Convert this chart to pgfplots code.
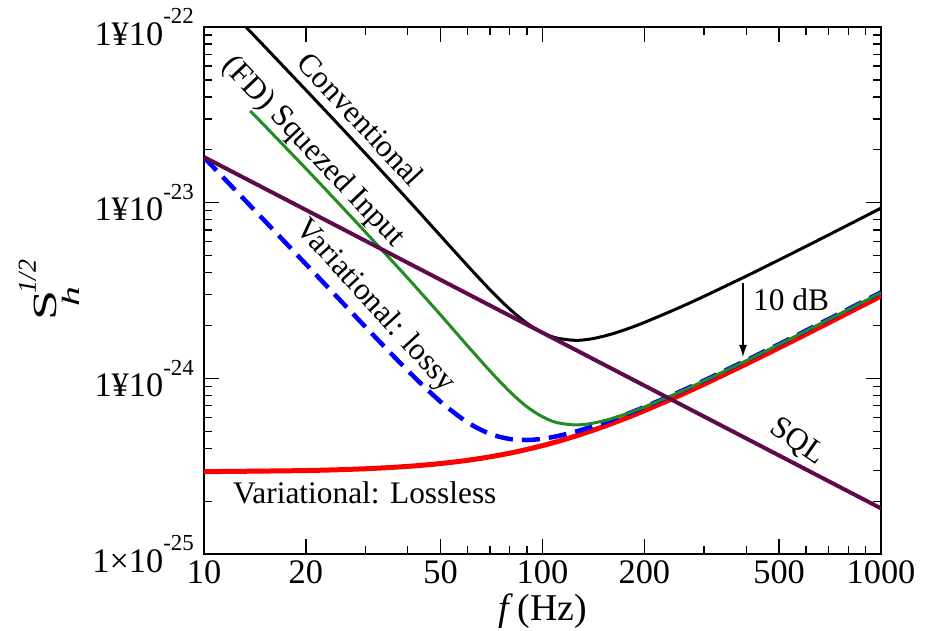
\documentclass[border=0pt]{standalone}
\usepackage{fontspec}
\setmainfont{Liberation Serif}
\usepackage{pgfplots}
\pgfplotsset{compat=1.18}
\usetikzlibrary{arrows.meta}
\definecolor{sqlpurple}{RGB}{95,10,75}
\definecolor{fdgreen}{RGB}{34,139,34}
\newcommand\sups[1]{\raisebox{0.62em}{\fontsize{23}{23}\selectfont #1}}
\newcommand\tickfont{\fontsize{34.5}{35}\selectfont}
\newcommand\annfont{\fontsize{31.5}{32}\selectfont}
\begin{document}
\begin{tikzpicture}
\path[use as bounding box] (-204bp,-77bp) rectangle (728bp,554bp);
\begin{axis}[
  at={(0,0)}, anchor=south west,
  width=677bp, height=527bp, scale only axis,
  xmode=log, ymode=log,
  xmin=10, xmax=1000, ymin=1e-25, ymax=1e-22,
  xtick={10,20,50,100,200,500,1000},
  xticklabels={10,20,50,100,200,500,1000},
  minor xtick={30,40,60,70,80,90,300,400,600,700,800,900},
  ytick={1e-25,1e-24,1e-23,1e-22},
  yticklabels={{1×10\sups{-25}},{1¥10\sups{-24}},{1¥10\sups{-23}},{1¥10\sups{-22}}},
  minor ytick={2e-25,3e-25,4e-25,5e-25,6e-25,7e-25,8e-25,9e-25,2e-24,3e-24,4e-24,5e-24,6e-24,7e-24,8e-24,9e-24,2e-23,3e-23,4e-23,5e-23,6e-23,7e-23,8e-23,9e-23},
  tick align=inside,
  major tick length=15bp, minor tick length=8bp,
  tick style={black, line width=1.3bp},
  axis line style={line width=1.5bp},
  xticklabel style={font=\tickfont, anchor=north, inner sep=0pt, yshift=-6bp},
  yticklabel style={font=\tickfont, anchor=east, inner sep=0pt, xshift=-10bp},
]
% Variational: Lossless
\addplot[red, line width=5bp, smooth] coordinates {
(10,2.945e-25) (20,2.988e-25) (30,3.059e-25) (40,3.156e-25) (50,3.276e-25)
(60,3.417e-25) (70,3.577e-25) (80,3.752e-25) (90,3.942e-25) (100,4.144e-25)
(110,4.356e-25) (125,4.690e-25) (140,5.041e-25) (160,5.528e-25) (180,6.033e-25)
(200,6.552e-25) (250,7.889e-25) (300,9.265e-25) (400,1.2081e-24) (500,1.4940e-24)
(600,1.7822e-24) (700,2.0718e-24) (800,2.3622e-24) (1000,2.9446e-24)};
% Variational: lossy
\addplot[blue, line width=4.5bp, dash pattern=on 18bp off 9bp, smooth] coordinates {
(10,1.811e-23) (12,1.255e-23) (15,8.006e-24) (20,4.473e-24) (25,2.843e-24)
(30,1.963e-24) (40,1.1067e-24) (50,7.363e-25) (60,5.625e-25) (70,4.831e-25)
(80,4.519e-25) (90,4.459e-25) (100,4.533e-25) (110,4.679e-25) (125,4.972e-25)
(140,5.315e-25) (160,5.810e-25) (180,6.333e-25) (200,6.875e-25) (250,8.274e-25)
(300,9.717e-25) (400,1.2671e-24) (500,1.5669e-24) (600,1.8692e-24) (700,2.1729e-24)
(800,2.4775e-24) (1000,3.0883e-24)};
% (FD) Squeezed input
\addplot[fdgreen, line width=3bp, smooth] coordinates {
(13.7,3.33e-23) (15,2.784e-23) (20,1.564e-23) (25,9.911e-24) (30,6.798e-24)
(40,3.720e-24) (50,2.296e-24) (60,1.535e-24) (70,1.101e-24) (80,8.414e-25)
(90,6.889e-25) (100,6.048e-25) (110,5.606e-25) (125,5.435e-25) (140,5.546e-25)
(160,5.900e-25) (180,6.361e-25) (200,6.873e-25) (250,8.245e-25) (300,9.677e-25)
(400,1.2615e-24) (500,1.560e-24) (600,1.861e-24) (700,2.1633e-24) (800,2.4666e-24)
(1000,3.0747e-24)};
% Conventional
\addplot[black, line width=3bp, smooth] coordinates {
(10,1.778e-22) (12,1.232e-22) (13.7,9.43e-23) (15,7.85e-23) (20,4.380e-23)
(25,2.775e-23) (30,1.9035e-23) (40,1.0415e-23) (50,6.474e-24) (60,4.390e-24)
(70,3.194e-24) (80,2.482e-24) (90,2.0597e-24) (100,1.8205e-24) (110,1.6987e-24)
(125,1.6468e-24) (140,1.6806e-24) (160,1.7878e-24) (180,1.9275e-24) (200,2.0824e-24)
(250,2.4983e-24) (300,2.9321e-24) (400,3.8222e-24) (500,4.7268e-24) (600,5.6387e-24)
(700,6.5549e-24) (800,7.4737e-24) (1000,9.3162e-24)};
% SQL
\addplot[sqlpurple, line width=4bp] coordinates {(10,1.82e-23) (1000,1.82e-25)};
\end{axis}
% annotations
\node[rotate=-47, font=\annfont, inner sep=0pt] at (157bp,435bp) {Conventional};
\node[rotate=-46.5, font=\annfont, inner sep=0pt] at (109bp,402bp) {(FD) Squezed Input};
\node[rotate=-47.5, font=\annfont, inner sep=0pt] at (171bp,248bp) {Variational: lossy};
\node[rotate=-35, font=\annfont, inner sep=0pt] at (593bp,112bp) {SQL};
\node[anchor=base west, font=\annfont, inner sep=0pt] at (549bp,243bp) {10 dB};
\node[anchor=base west, font=\annfont, inner sep=0pt] at (29bp,50bp) {Variational: Lossless};
\draw[line width=1.2bp, -{Latex[length=12bp,width=8bp]}] (539bp,271bp) -- (539bp,197bp);
% axis labels
\node[anchor=base, inner sep=0pt, font=\fontsize{38}{38}\selectfont] at (338.5bp,-66bp) {\textit{f}\hspace{0.12em}(Hz)};
\node[rotate=90, anchor=base, inner sep=0pt] at (-147bp,264bp) {\fontsize{34}{34}\selectfont\scalebox{1.6}[1]{S}\hspace{-17bp}\raisebox{-23bp}{\fontsize{25}{25}\selectfont\itshape\scalebox{1.6}[1]{h}}\hspace{-6bp}\raisebox{21bp}{\fontsize{26}{26}\selectfont\itshape 1/2}};
\end{tikzpicture}
\end{document}
